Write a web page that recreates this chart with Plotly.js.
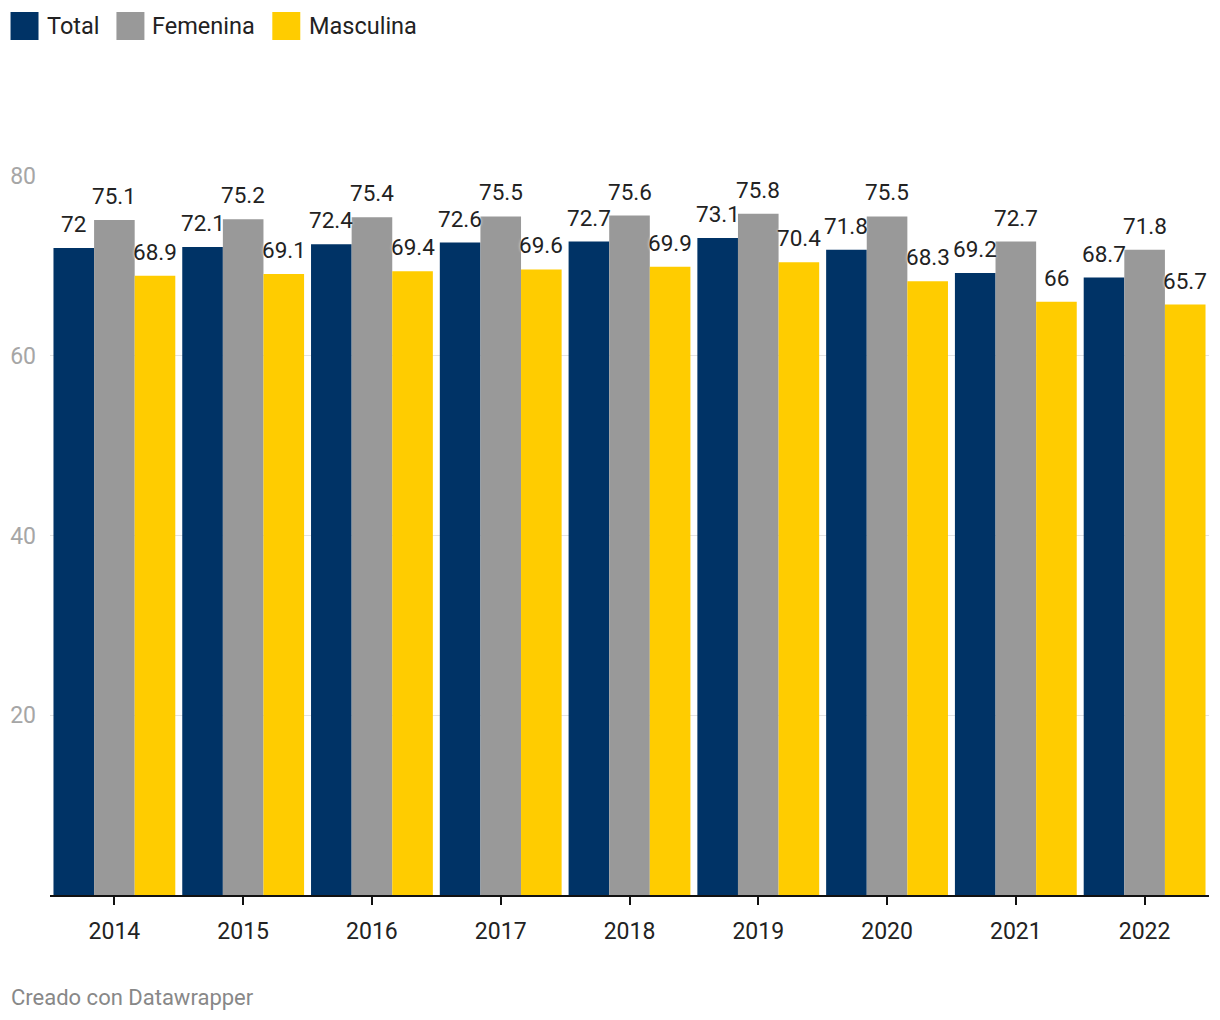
<!DOCTYPE html>
<html>
<head>
<meta charset="utf-8">
<script src="https://cdn.plot.ly/plotly-3.0.1.min.js"></script>
<style>html,body{margin:0;padding:0;background:#fff;}#chart{width:1220px;height:1020px;}</style>
</head>
<body>
<div id="chart"></div>
<script>
const years = ['2014','2015','2016','2017','2018','2019','2020','2021','2022'];
const total = [72, 72.1, 72.4, 72.6, 72.7, 73.1, 71.8, 69.2, 68.7];
const femenina = [75.1, 75.2, 75.4, 75.5, 75.6, 75.8, 75.5, 72.7, 71.8];
const masculina = [68.9, 69.1, 69.4, 69.6, 69.9, 70.4, 68.3, 66, 65.7];
const seriesNames = ['Total', 'Femenina', 'Masculina'];
const colors = ['#003366', '#999999', '#ffcc00'];

const W = 1220, H = 1020;
const m = {l: 49.5, r: 10.5, t: 176, b: 125};
const pw = W - m.l - m.r, ph = H - m.t - m.b;
const px = x => (x - m.l) / pw;
const py = y => (H - m.b - y) / ph;
const bargap = 0.054;
const barW = pw / years.length * (1 - bargap) / 3;

const font = "Roboto, 'Noto Sans', sans-serif";
const allSeries = [total, femenina, masculina];
const data = allSeries.map((vals, i) => ({
  type: 'bar', x: years, y: vals, name: seriesNames[i],
  marker: {color: colors[i]}, hoverinfo: 'x+y+name'
}));

// value labels, anchored at each bar's data point (category index on the x scale)
const annotations = [];
allSeries.forEach((vals, i) => {
  vals.forEach((v, j) => {
    annotations.push({
      xref: 'x', yref: 'y', x: j, y: v,
      xshift: (i - 1) * barW, yshift: 9,
      xanchor: 'center', yanchor: 'bottom', showarrow: false,
      text: String(v),
      font: {family: font, size: 22.5, color: '#222', shadow: '0px 0px 3px #fff'}
    });
  });
});

// legend drawn as swatches + labels
const legendItems = [
  {sx: 10, tx: 46}, {sx: 116, tx: 152}, {sx: 272, tx: 309}
];
const shapes = legendItems.map((it, i) => ({
  type: 'rect', xref: 'paper', yref: 'paper',
  x0: px(it.sx), x1: px(it.sx + 28), y0: py(40), y1: py(12),
  fillcolor: colors[i], line: {width: 0}
}));
legendItems.forEach((it, i) => annotations.push({
  xref: 'paper', yref: 'paper', x: px(it.tx - 2), y: py(26),
  xanchor: 'left', yanchor: 'middle', showarrow: false,
  text: seriesNames[i], font: {family: font, size: 23.5, color: '#222'}
}));
annotations.push({
  xref: 'paper', yref: 'paper', x: px(8), y: py(997),
  xanchor: 'left', yanchor: 'middle', showarrow: false,
  text: 'Creado con Datawrapper', font: {family: font, size: 22, color: '#888'}
});

const layout = {
  width: W, height: H, margin: m,
  paper_bgcolor: '#fff', plot_bgcolor: '#fff',
  barmode: 'group', bargap: bargap, bargroupgap: 0,
  showlegend: false,
  font: {family: font},
  xaxis: {
    type: 'category', range: [-0.5, years.length - 0.5], autorange: false,
    showgrid: false, showline: true, linecolor: '#111', linewidth: 2,
    ticks: 'outside', ticklen: 8, tickwidth: 2, tickcolor: '#111', ticklabelstandoff: 6,
    tickfont: {family: font, size: 23, color: '#222'}, fixedrange: true
  },
  yaxis: {
    range: [0, 80], tickvals: [20, 40, 60, 80], showgrid: true, gridcolor: '#e3e3e3', gridwidth: 1,
    zeroline: false, showline: false, ticks: '', ticklabelstandoff: 13,
    tickfont: {family: font, size: 23, color: '#a6a6a6'}, fixedrange: true
  },
  shapes: shapes, annotations: annotations
};
Plotly.newPlot('chart', data, layout, {displayModeBar: false, staticPlot: true});
</script>
</body>
</html>
